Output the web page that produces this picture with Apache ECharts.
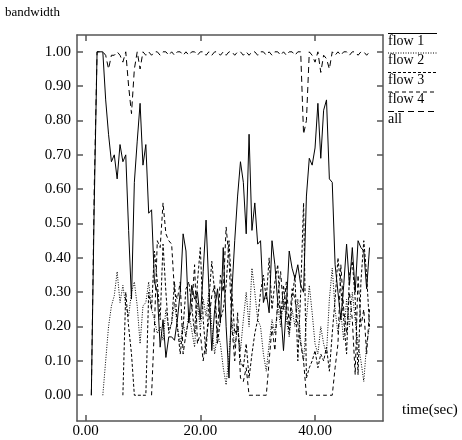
<!DOCTYPE html>
<html>
<head>
<meta charset="utf-8">
<script src="https://cdn.jsdelivr.net/npm/echarts@6/dist/echarts.min.js"></script>
<style>html,body{margin:0;padding:0;background:#fff;}#c{width:462px;height:440px;}</style>
</head>
<body>
<div id="c"></div>
<script>
// time (sec), one sample every 0.5 s
var time = [0.0,0.5,1.0,1.5,2.0,2.5,3.0,3.5,4.0,4.5,5.0,5.5,6.0,6.5,7.0,7.5,8.0,8.5,9.0,9.5,
  10.0,10.5,11.0,11.5,12.0,12.5,13.0,13.5,14.0,14.5,15.0,15.5,16.0,16.5,17.0,17.5,18.0,18.5,19.0,19.5,
  20.0,20.5,21.0,21.5,22.0,22.5,23.0,23.5,24.0,24.5,25.0,25.5,26.0,26.5,27.0,27.5,28.0,28.5,29.0,29.5,
  30.0,30.5,31.0,31.5,32.0,32.5,33.0,33.5,34.0,34.5,35.0,35.5,36.0,36.5,37.0,37.5,38.0,38.5,39.0,39.5,
  40.0,40.5,41.0,41.5,42.0,42.5,43.0,43.5,44.0,44.5,45.0,45.5,46.0,46.5,47.0,47.5,48.0,48.5,49.0,49.5,50.0];

var flow1 = [null,null,0.00,0.55,1.00,1.00,1.00,0.86,0.76,0.68,0.70,0.63,0.73,0.68,0.70,0.48,0.28,0.62,0.74,0.85,
  0.67,0.73,0.53,0.54,0.33,0.30,0.14,0.22,0.11,0.17,0.17,0.16,0.22,0.30,0.47,0.42,0.21,0.32,0.28,0.30,
  0.22,0.36,0.51,0.31,0.13,0.25,0.31,0.21,0.43,0.20,0.05,0.30,0.45,0.58,0.68,0.62,0.47,0.76,0.48,0.56,
  0.44,0.45,0.27,0.30,0.24,0.45,0.38,0.27,0.25,0.13,0.26,0.42,0.37,0.34,0.38,0.32,0.30,0.58,0.69,0.67,
  0.72,0.85,0.69,0.83,0.86,0.63,0.62,0.38,0.30,0.22,0.32,0.44,0.32,0.43,0.30,0.45,0.43,0.42,0.31,0.43,null];

var flow2 = [null,null,null,null,null,null,0.00,0.10,0.20,0.26,0.29,0.36,0.27,0.32,0.26,0.23,0.30,0.33,0.26,0.15,
  0.26,0.27,0.33,0.25,0.22,0.18,0.20,0.16,0.25,0.19,0.21,0.27,0.20,0.15,0.21,0.17,0.24,0.19,0.14,0.27,
  0.19,0.28,0.23,0.30,0.20,0.12,0.18,0.15,0.08,0.03,0.12,0.22,0.14,0.20,0.13,0.22,0.30,0.20,0.37,0.30,
  0.22,0.20,0.12,0.07,0.15,0.22,0.18,0.26,0.20,0.28,0.22,0.17,0.25,0.20,0.28,0.16,0.10,0.22,0.32,0.24,
  0.15,0.12,0.20,0.15,0.12,0.28,0.37,0.25,0.18,0.24,0.16,0.28,0.20,0.30,0.22,0.15,0.10,0.04,0.15,0.20,null];

var flow3 = [null,null,null,null,null,null,null,null,null,null,null,null,null,0.00,0.30,0.20,0.12,0.00,0.00,0.00,
  0.00,0.00,0.30,0.25,0.42,0.33,0.22,0.44,0.30,0.18,0.21,0.33,0.20,0.12,0.20,0.31,0.33,0.26,0.18,0.33,
  0.43,0.22,0.12,0.28,0.39,0.30,0.15,0.22,0.25,0.32,0.45,0.30,0.18,0.20,0.10,0.08,0.15,0.05,0.12,0.18,
  0.22,0.30,0.35,0.28,0.40,0.25,0.33,0.38,0.22,0.32,0.25,0.18,0.28,0.35,0.10,0.30,0.56,0.05,0.08,0.10,
  0.13,0.08,0.12,0.10,0.14,0.07,0.18,0.28,0.40,0.31,0.22,0.12,0.35,0.39,0.28,0.06,0.33,0.45,0.35,0.20,null];

var flow4 = [null,null,null,null,null,null,null,null,null,null,null,null,null,null,null,null,null,null,null,null,
  null,null,null,0.00,0.20,0.45,0.43,0.56,0.47,0.45,0.44,0.30,0.28,0.33,0.12,0.18,0.22,0.25,0.38,0.15,
  0.18,0.10,0.16,0.22,0.29,0.32,0.17,0.35,0.30,0.49,0.40,0.20,0.10,0.24,0.05,0.04,0.08,0.00,0.00,0.00,
  0.00,0.00,0.00,0.00,0.10,0.20,0.13,0.28,0.36,0.25,0.33,0.20,0.31,0.28,0.21,0.15,0.10,0.00,0.00,0.00,
  0.00,0.00,0.00,0.00,0.00,0.00,0.00,0.08,0.15,0.38,0.25,0.18,0.30,0.22,0.06,0.35,0.20,0.25,0.12,0.25,null];

var all = [null,null,0.00,0.60,1.00,1.00,1.00,0.99,0.95,0.99,0.99,1.00,0.99,0.97,1.00,0.90,0.82,0.95,1.00,0.95,
  1.00,0.99,1.00,0.99,1.00,1.00,0.99,1.00,1.00,0.99,1.00,0.99,1.00,1.00,0.99,1.00,0.99,1.00,1.00,0.99,
  1.00,1.00,0.99,1.00,0.99,1.00,1.00,0.99,1.00,0.99,1.00,1.00,0.99,1.00,1.00,0.99,1.00,0.99,1.00,1.00,
  0.99,1.00,1.00,0.99,1.00,0.99,1.00,1.00,0.99,1.00,0.99,1.00,1.00,0.99,1.00,1.00,0.76,0.80,1.00,0.99,
  0.97,1.00,0.94,0.99,0.98,0.95,1.00,0.99,1.00,0.99,1.00,1.00,0.99,1.00,1.00,0.99,1.00,1.00,0.99,1.00,null];

var xTicks = [0, 20, 40];
var yTicks = [0, 0.1, 0.2, 0.3, 0.4, 0.5, 0.6, 0.7, 0.8, 0.9, 1.0];
var seriesNames = ['flow 1', 'flow 2', 'flow 3', 'flow 4', 'all'];

var FONT = 'Liberation Serif';
var dashes = ['solid', [1, 1.5], [3, 2], [4, 3], [6, 4]];
var values = [flow1, flow2, flow3, flow4, all];

function pairs(v) { return time.map(function (t, i) { return [t, v[i]]; }); }

var axisLineStyle = { color: '#555', width: 1.5 };
function xAx(pos, show) {
  return {
    type: 'value', position: pos, min: -1.5, max: 51.85,
    axisLine: { show: true, onZero: false, lineStyle: axisLineStyle },
    axisTick: { show: true, inside: true, length: 6, customValues: xTicks, lineStyle: axisLineStyle },
    axisLabel: { show: show, customValues: xTicks, margin: 3, color: '#000', fontFamily: FONT, fontSize: 15,
      formatter: function (v) { return v.toFixed(2); } },
    splitLine: { show: false }
  };
}
function yAx(pos, show) {
  return {
    type: 'value', position: pos, min: -0.075, max: 1.049,
    axisLine: { show: true, onZero: false, lineStyle: axisLineStyle },
    axisTick: { show: true, inside: true, length: 6, customValues: yTicks, lineStyle: axisLineStyle },
    axisLabel: { show: show, customValues: yTicks, margin: 6, color: '#000', fontFamily: FONT, fontSize: 15,
      formatter: function (v) { return v.toFixed(2); } },
    splitLine: { show: false }
  };
}

var series = values.map(function (v, k) {
  return {
    name: seriesNames[k], type: 'line', data: pairs(v), xAxisIndex: 0, yAxisIndex: 0,
    showSymbol: false, symbol: 'none', connectNulls: false,
    lineStyle: { color: '#000', width: 1, type: dashes[k] },
    z: 10 - k
  };
});

var graphic = [
  { type: 'text', left: 5, top: 6, style: { text: 'bandwidth', fontFamily: FONT, fontSize: 13, fill: '#000' } },
  { type: 'text', left: 402, top: 403, style: { text: 'time(sec)', fontFamily: FONT, fontSize: 15, fill: '#000' } }
];
var legendY = [33.5, 53, 72.5, 92, 111.5];
seriesNames.forEach(function (n, k) {
  graphic.push({ type: 'line', shape: { x1: 388, y1: legendY[k], x2: 437, y2: legendY[k] },
    style: { stroke: '#000', lineWidth: 1, lineDash: dashes[k] === 'solid' ? null : dashes[k] } });
  graphic.push({ type: 'text', left: 388, top: legendY[k] + 0.5,
    style: { text: n, fontFamily: FONT, fontSize: 14, fill: '#000' } });
});

var chart = echarts.init(document.getElementById('c'), null, { renderer: 'canvas' });
chart.setOption({
  animation: false,
  backgroundColor: '#fff',
  grid: { left: 77, top: 35, width: 306, height: 386, containLabel: false },
  xAxis: [xAx('bottom', true), xAx('top', false)],
  yAxis: [yAx('left', true), yAx('right', false)],
  graphic: graphic,
  series: series
});
</script>
</body>
</html>
